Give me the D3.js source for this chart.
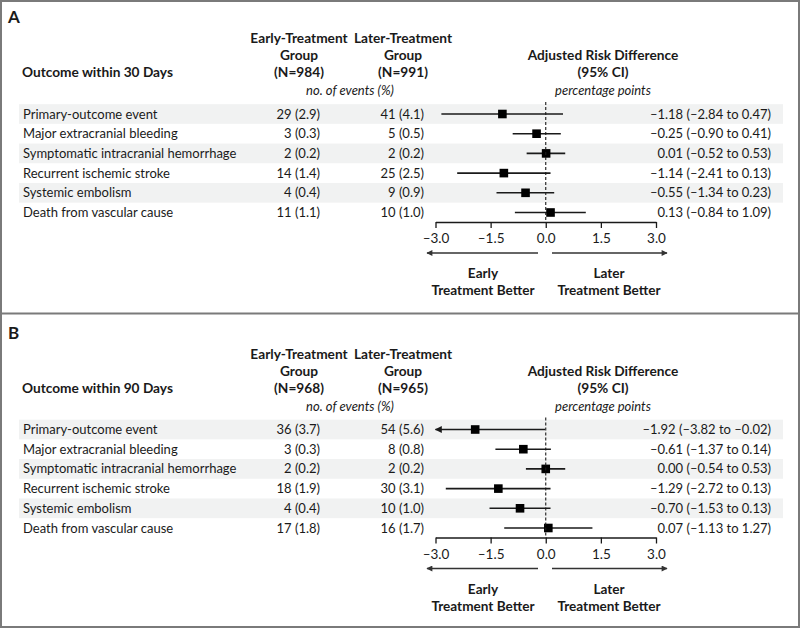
<!DOCTYPE html>
<html><head><meta charset="utf-8">
<script src="https://cdn.jsdelivr.net/npm/d3@7"></script>
<style>
body{margin:0;background:#fff;}
svg{display:block;font-family:Lato,"Open Sans",sans-serif;}
</style></head>
<body>
<svg id="chart" width="800" height="629"></svg>
<script>
const outcomes = ["Primary-outcome event","Major extracranial bleeding","Symptomatic intracranial hemorrhage","Recurrent ischemic stroke","Systemic embolism","Death from vascular cause"];
// 30 days
const earlyN30 = [29,3,2,14,4,11];
const earlyPct30 = [2.9,0.3,0.2,1.4,0.4,1.1];
const laterN30 = [41,5,2,25,9,10];
const laterPct30 = [4.1,0.5,0.2,2.5,0.9,1.0];
const rd30 = [-1.18,-0.25,0.01,-1.14,-0.55,0.13];
const lo30 = [-2.84,-0.90,-0.52,-2.41,-1.34,-0.84];
const hi30 = [0.47,0.41,0.53,0.13,0.23,1.09];
// 90 days
const earlyN90 = [36,3,2,18,4,17];
const earlyPct90 = [3.7,0.3,0.2,1.9,0.4,1.8];
const laterN90 = [54,8,2,30,10,16];
const laterPct90 = [5.6,0.8,0.2,3.1,1.0,1.7];
const rd90 = [-1.92,-0.61,0.00,-1.29,-0.70,0.07];
const lo90 = [-3.82,-1.37,-0.54,-2.72,-1.53,-1.13];
const hi90 = [-0.02,0.14,0.53,0.13,0.13,1.27];
const tickValues = [-3.0,-1.5,0.0,1.5,3.0];
const axisDomain = [-3,3];

const panels = [
  {label:"A", title:"Outcome within 30 Days", nEarly:984, nLater:991,
   eN:earlyN30,eP:earlyPct30,lN:laterN30,lP:laterPct30,rd:rd30,lo:lo30,hi:hi30},
  {label:"B", title:"Outcome within 90 Days", nEarly:968, nLater:965,
   eN:earlyN90,eP:earlyPct90,lN:laterN90,lP:laterPct90,rd:rd90,lo:lo90,hi:hi90}
];

const svg = d3.select("#chart");
const ink = "#1a1a1a";
const num = v => (v < 0 ? "\u2013" : "") + Math.abs(v).toFixed(2);
const tickFmt = v => (v < 0 ? "\u2013" : "") + Math.abs(v).toFixed(1);

const defs = svg.append("defs");
defs.append("marker").attr("id","ah").attr("viewBox","0 0 10 10").attr("refX",9).attr("refY",5)
  .attr("markerWidth",10).attr("markerHeight",6).attr("markerUnits","userSpaceOnUse").attr("orient","auto")
  .append("path").attr("d","M0,0L10,5L0,10z").attr("fill","#333");
defs.append("marker").attr("id","ahk").attr("viewBox","0 0 10 10").attr("refX",9).attr("refY",5)
  .attr("markerWidth",12).attr("markerHeight",7).attr("markerUnits","userSpaceOnUse").attr("orient","auto-start-reverse")
  .append("path").attr("d","M0,0L10,5L0,10z").attr("fill",ink);

const x = d3.scaleLinear().domain(axisDomain).range([435.5, 656]);
const rowY = d3.scaleLinear().domain([0,5]).range([114, 212.5]);
const rowH = 19.7;
const hdrSize = 13.7;

panels.forEach((p, pi) => {
  const g = svg.append("g").attr("transform", `translate(0,${pi*315.5})`);
  g.append("text").attr("x",8).attr("y",23).attr("font-size",17).attr("font-weight","bold").attr("fill",ink).text(p.label);

  const hdr = (tx, lines, x0, fs) => {
    const t = g.append("text").attr("x",x0).attr("text-anchor","middle").attr("font-size",fs || hdrSize)
      .attr("font-weight","bold").attr("fill",ink);
    lines.forEach((l,i)=> t.append("tspan").attr("x",x0).attr("y",tx+i*17).text(l));
  };
  hdr(43, ["Early-Treatment","Group",`(N=${p.nEarly})`], 299);
  hdr(43, ["Later-Treatment","Group",`(N=${p.nLater})`], 403);
  hdr(60, ["Adjusted Risk Difference","(95% CI)"], 603);
  g.append("text").attr("x",22).attr("y",77).attr("font-size",hdrSize).attr("font-weight","bold").attr("fill",ink).text(p.title);
  g.append("text").attr("x",350).attr("y",95).attr("text-anchor","middle").attr("font-size",13)
    .attr("font-style","italic").attr("fill",ink).text("no. of events (%)");
  g.append("text").attr("x",603).attr("y",95).attr("text-anchor","middle").attr("font-size",13)
    .attr("font-style","italic").attr("fill",ink).text("percentage points");

  // bands
  outcomes.forEach((o,i)=>{
    if (i%2===0) g.append("rect").attr("x",19).attr("y",rowY(i)-rowH/2).attr("width",764).attr("height",rowH).attr("fill","#f1f2f2");
  });

  const rows = g.selectAll("g.row").data(outcomes).join("g").attr("class","row");
  rows.append("text").attr("x",23).attr("y",(d,i)=>rowY(i)+4.5).attr("font-size",13).attr("fill",ink).text(d=>d);
  rows.append("text").attr("x",320).attr("y",(d,i)=>rowY(i)+4.5).attr("text-anchor","end").attr("font-size",13).attr("fill",ink)
    .text((d,i)=>`${p.eN[i]} (${p.eP[i].toFixed(1)})`);
  rows.append("text").attr("x",424).attr("y",(d,i)=>rowY(i)+4.5).attr("text-anchor","end").attr("font-size",13).attr("fill",ink)
    .text((d,i)=>`${p.lN[i]} (${p.lP[i].toFixed(1)})`);
  rows.append("text").attr("x",771).attr("y",(d,i)=>rowY(i)+4.5).attr("text-anchor","end").attr("font-size",13).attr("fill",ink)
    .text((d,i)=>`${num(p.rd[i])} (${num(p.lo[i])} to ${num(p.hi[i])})`);

  // reference line
  g.append("line").attr("x1",x(0)).attr("x2",x(0)).attr("y1",rowY(0)-12).attr("y2",222)
    .attr("stroke",ink).attr("stroke-width",1.1).attr("stroke-dasharray","3,2");

  // CI lines
  rows.append("line")
    .attr("x1",(d,i)=>x(Math.max(p.lo[i],axisDomain[0])))
    .attr("x2",(d,i)=>x(Math.min(p.hi[i],axisDomain[1])))
    .attr("y1",(d,i)=>rowY(i)).attr("y2",(d,i)=>rowY(i))
    .attr("stroke",ink).attr("stroke-width",1.6)
    .attr("marker-start",(d,i)=> p.lo[i] < axisDomain[0] ? "url(#ahk)" : null);
  rows.append("rect").attr("x",(d,i)=>x(p.rd[i])-4.3).attr("y",(d,i)=>rowY(i)-4.3)
    .attr("width",8.6).attr("height",8.6).attr("fill","#000");

  // axis
  const ax = g.append("g").attr("transform","translate(0,222)")
    .call(d3.axisBottom(x).tickValues(tickValues).tickFormat(tickFmt).tickSize(6).tickSizeOuter(0));
  ax.select(".domain").attr("stroke",ink).attr("stroke-width",1.3);
  ax.selectAll(".tick line").attr("stroke",ink).attr("stroke-width",1.3);
  ax.selectAll(".tick text").attr("font-size",13.5).attr("fill",ink).attr("font-family","Lato,'Open Sans',sans-serif").attr("dy","0.9em");

  // direction arrows
  g.append("line").attr("x1",538).attr("x2",427).attr("y1",253).attr("y2",253).attr("stroke","#333").attr("stroke-width",1.3).attr("marker-end","url(#ah)");
  g.append("line").attr("x1",552).attr("x2",667).attr("y1",253).attr("y2",253).attr("stroke","#333").attr("stroke-width",1.3).attr("marker-end","url(#ah)");
  hdr(278, ["Early","Treatment Better"], 483, 13.6);
  hdr(278, ["Later","Treatment Better"], 609, 13.6);
});

// frame
svg.append("rect").attr("x",1).attr("y",1).attr("width",798).attr("height",626).attr("fill","none").attr("stroke","#7a7a7a").attr("stroke-width",2);
svg.append("line").attr("x1",0).attr("x2",800).attr("y1",313.5).attr("y2",313.5).attr("stroke","#7a7a7a").attr("stroke-width",2);
</script>
</body></html>
